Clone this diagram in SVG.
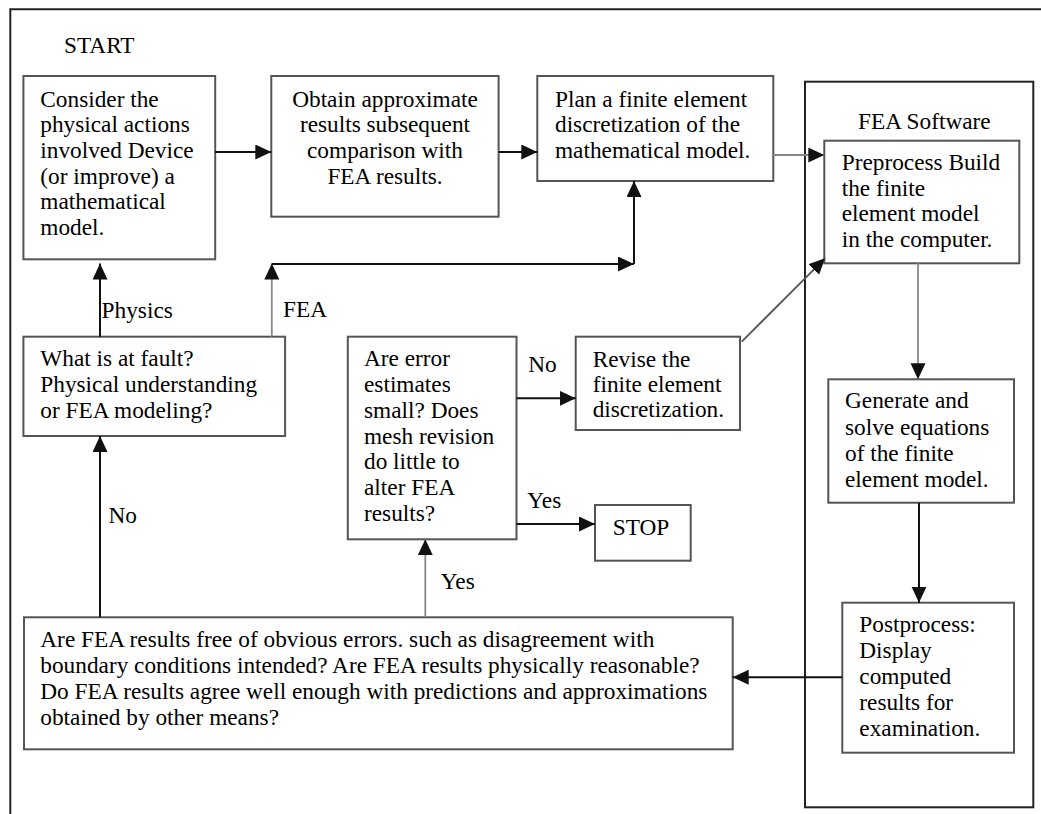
<svg xmlns="http://www.w3.org/2000/svg" width="1041" height="814" viewBox="0 0 1041 814">
<style>
.t text{font-size:23.3px;fill:#000}
.box{fill:#fff;stroke:#555;stroke-width:2}
.frame{fill:none;stroke:#222;stroke-width:2}
.k{fill:none;stroke:#111;stroke-width:2}
.g{fill:none;stroke:#888;stroke-width:1.8}
.c{text-anchor:middle}
</style>
<defs>
<marker id="ah" markerUnits="userSpaceOnUse" markerWidth="17" markerHeight="17" refX="16" refY="7.5" orient="auto">
<path d="M0,0 L16,7.5 L0,15 z" fill="#111"/>
</marker>
</defs>
<g class="t" font-family="Liberation Serif, Times New Roman, serif">
<path class="frame" d="M10.3,814 V9.3 H1041"/>
<text x="64" y="53">START</text>
<g id="fea-software">
<rect class="frame" x="805" y="81.7" width="228.3" height="725.6"/>
<text x="858" y="129">FEA Software</text>
</g>
<g id="consider">
<rect class="box" x="23.4" y="76" width="191.8" height="183.3"/>
<text x="40.3" y="106.7">Consider the</text>
<text x="40.3" y="132.3">physical actions</text>
<text x="40.3" y="158">involved Device</text>
<text x="40.3" y="183.7">(or improve) a</text>
<text x="40.3" y="209.3">mathematical</text>
<text x="40.3" y="235">model.</text>
</g>
<g id="obtain">
<rect class="box" x="271.3" y="76" width="227.3" height="140.7"/>
<text class="c" x="385" y="106.7">Obtain approximate</text>
<text class="c" x="385" y="132.3">results subsequent</text>
<text class="c" x="385" y="158">comparison with</text>
<text class="c" x="385" y="183.7">FEA results.</text>
</g>
<g id="plan">
<rect class="box" x="537.3" y="76" width="236" height="105"/>
<text x="555" y="106.7">Plan a finite element</text>
<text x="555" y="132.3">discretization of the</text>
<text x="555" y="158">mathematical model.</text>
</g>
<g id="preprocess">
<rect class="box" x="824.3" y="140.7" width="195" height="122.6"/>
<text x="841.7" y="170">Preprocess Build</text>
<text x="841.7" y="195.5">the finite</text>
<text x="841.7" y="221">element model</text>
<text x="841.7" y="246.7">in the computer.</text>
</g>
<g id="fault">
<rect class="box" x="23.4" y="336.7" width="261.7" height="99.3"/>
<text x="40.3" y="366">What is at fault?</text>
<text x="40.3" y="392">Physical understanding</text>
<text x="40.3" y="418">or FEA modeling?</text>
</g>
<g id="error">
<rect class="box" x="347.8" y="336.7" width="168.7" height="202.6"/>
<text x="364" y="366">Are error</text>
<text x="364" y="391.8">estimates</text>
<text x="364" y="417.7">small? Does</text>
<text x="364" y="443.5">mesh revision</text>
<text x="364" y="469.3">do little to</text>
<text x="364" y="495.2">alter FEA</text>
<text x="364" y="521">results?</text>
</g>
<g id="revise">
<rect class="box" x="575.7" y="336.7" width="164.3" height="93.3"/>
<text x="592.7" y="366.7">Revise the</text>
<text x="592.7" y="391.5">finite element</text>
<text x="592.7" y="417.3">discretization.</text>
</g>
<g id="stop">
<rect class="box" x="595" y="505" width="95.7" height="55.7"/>
<text x="612.7" y="535">STOP</text>
</g>
<g id="generate">
<rect class="box" x="828.3" y="379.3" width="185.7" height="123.4"/>
<text x="845" y="408.3">Generate and</text>
<text x="845" y="434.5">solve equations</text>
<text x="845" y="460.5">of the finite</text>
<text x="845" y="486.7">element model.</text>
</g>
<g id="postprocess">
<rect class="box" x="842.3" y="602.7" width="171.7" height="150"/>
<text x="859.3" y="631.7">Postprocess:</text>
<text x="859.3" y="657.7">Display</text>
<text x="859.3" y="684">computed</text>
<text x="859.3" y="710">results for</text>
<text x="859.3" y="736.3">examination.</text>
</g>
<g id="check">
<rect class="box" x="24" y="617.3" width="708.7" height="132"/>
<text x="40.3" y="647.3">Are FEA results free of obvious errors. such as disagreement with</text>
<text x="40.3" y="673.3">boundary conditions intended? Are FEA results physically reasonable?</text>
<text x="40.3" y="699.3">Do FEA results agree well enough with predictions and approximations</text>
<text x="40.3" y="725">obtained by other means?</text>
</g>
<g id="connectors">
<path class="k" d="M215.2,152 H271.3" marker-end="url(#ah)"/>
<path class="k" d="M498.6,152 H537.3" marker-end="url(#ah)"/>
<path class="g" d="M773.3,155 H824.3" marker-end="url(#ah)"/>
<path class="k" d="M100,336.7 V263.5" marker-end="url(#ah)"/>
<path class="g" d="M271.8,336.7 V263.5" marker-end="url(#ah)"/>
<path class="k" d="M271.8,264 H634" marker-end="url(#ah)"/>
<path class="k" d="M634,264 V181" marker-end="url(#ah)"/>
<path class="k" d="M100,617.3 V436" marker-end="url(#ah)"/>
<path class="g" d="M425.3,617.3 V539.3" marker-end="url(#ah)"/>
<path class="k" d="M516.5,398.3 H575.7" marker-end="url(#ah)"/>
<path class="k" d="M516.5,524 H595" marker-end="url(#ah)"/>
<path class="g" d="M741.7,341.7 L825,258.3" marker-end="url(#ah)" style="stroke:#555"/>
<path class="g" d="M918,263.3 V379.3" marker-end="url(#ah)"/>
<path class="k" d="M919,502.7 V602.7" marker-end="url(#ah)"/>
<path class="k" d="M842.3,677.3 H732.7" marker-end="url(#ah)"/>
<text x="101.6" y="318">Physics</text>
<text x="283" y="316.7">FEA</text>
<text x="108.5" y="522.7">No</text>
<text x="440.8" y="589.3">Yes</text>
<text x="528.3" y="371.7">No</text>
<text x="527.3" y="508.3">Yes</text>
</g>
</g>
</svg>
